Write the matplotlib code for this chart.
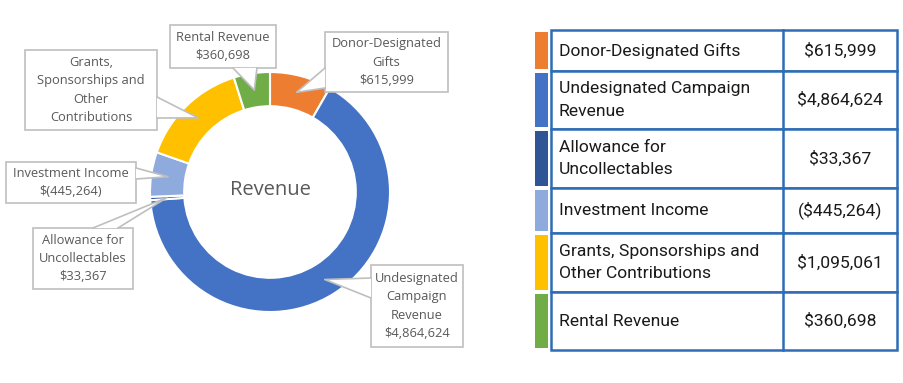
import numpy as np
import matplotlib.pyplot as plt
from matplotlib.patches import Rectangle, Polygon

categories = ['Donor-Designated Gifts', 'Undesignated Campaign Revenue',
              'Allowance for Uncollectables', 'Investment Income',
              'Grants, Sponsorships and Other Contributions', 'Rental Revenue']
values = [615999, 4864624, 33367, -445264, 1095061, 360698]
colors = ['#ED7D31', '#4472C4', '#2F5597', '#8FAADC', '#FFC000', '#70AD47']

callout_labels = ['Donor-Designated\nGifts', 'Undesignated\nCampaign\nRevenue',
                  'Allowance for\nUncollectables', 'Investment Income',
                  'Grants,\nSponsorships and\nOther\nContributions', 'Rental Revenue']
show_value = [True, True, True, True, False, True]
table_labels = ['Donor-Designated Gifts', 'Undesignated Campaign\nRevenue',
                'Allowance for\nUncollectables', 'Investment Income',
                'Grants, Sponsorships and\nOther Contributions', 'Rental Revenue']


def callout_money(v):
    return '$({:,})'.format(-v) if v < 0 else '${:,}'.format(v)


def table_money(v):
    return '(${:,})'.format(-v) if v < 0 else '${:,}'.format(v)


W, H = 904, 383
fig = plt.figure(figsize=(W / 100, H / 100), dpi=100)
ax = fig.add_axes([0, 0, 1, 1])


def py(y):
    # pixel row (from top) -> axis y
    return H - y


# donut
cx, cy, R = 270, py(192), 120
ring = 0.285
wedges, _ = ax.pie(np.abs(values), colors=colors, startangle=90, counterclock=False,
                   radius=R, center=(cx, cy), frame=True,
                   wedgeprops=dict(width=R * ring, edgecolor='white', linewidth=1.5))
ax.set_xlim(0, W)
ax.set_ylim(0, H)
ax.set_aspect('equal')
ax.axis('off')
ax.text(cx, cy + 2, 'Revenue', ha='center', va='center', fontsize=14.5,
        color='#595959', family='Open Sans')

# callout boxes: (x0, y0, x1, y1) in pixels, pointer base (two points)
boxes = [
    ((325, 32, 448, 92), ((325, 68), (325, 88))),
    ((371, 265, 463, 347), ((371, 278), (371, 298))),
    ((33, 228, 133, 289), ((93, 228), (118, 228))),
    ((6, 162, 136, 203), ((136, 168), (136, 179))),
    ((25, 50, 157, 130), ((157, 97), (157, 118))),
    ((170, 25, 276, 68), ((233, 68), (257, 68))),
]
edge = '#BFBFBF'
for w, (box, base), lab, v, sv in zip(wedges, boxes, callout_labels, values, show_value):
    mid = np.deg2rad((w.theta1 + w.theta2) / 2)
    rt = R * 0.86
    tip = (cx + rt * np.cos(mid), cy + rt * np.sin(mid))
    x0, y0, x1, y1 = box
    ax.add_patch(Rectangle((x0, py(y1)), x1 - x0, y1 - y0, facecolor='white',
                           edgecolor=edge, linewidth=1.2, zorder=5))
    b1 = (base[0][0], py(base[0][1]))
    b2 = (base[1][0], py(base[1][1]))
    ax.add_patch(Polygon([b1, tip, b2], closed=True, facecolor='white',
                         edgecolor='none', zorder=6))
    ax.plot([b1[0], tip[0], b2[0]], [b1[1], tip[1], b2[1]], color=edge,
            linewidth=1.2, zorder=7)
    txt = lab + ('\n' + callout_money(v) if sv else '')
    ax.text((x0 + x1) / 2, py((y0 + y1) / 2), txt, ha='center', va='center',
            fontsize=9.3, color='#595959', family='Open Sans', linespacing=1.55,
            zorder=8)

# table on the right
row_edges = [30, 71, 129, 188, 233, 292, 350]
tx0, tx1, tsplit = 551, 897, 783
tcol = '#2E6DB5'
for i in range(len(categories)):
    top, bot = row_edges[i], row_edges[i + 1]
    ax.add_patch(Rectangle((tx0, py(bot)), tx1 - tx0, bot - top, facecolor='white',
                           edgecolor=tcol, linewidth=1.8))
    ax.plot([tsplit, tsplit], [py(top), py(bot)], color=tcol, linewidth=1.8)
    ax.add_patch(Rectangle((535, py(bot - 2)), 13, bot - top - 4,
                           facecolor=colors[i], edgecolor='none'))
    ym = py((top + bot) / 2)
    ax.text(559, ym, table_labels[i], ha='left', va='center', fontsize=12.6,
            color='#1a1a1a', family='Roboto', linespacing=1.6)
    ax.text((tsplit + tx1) / 2, ym, table_money(values[i]), ha='center', va='center',
            fontsize=12.6, color='#1a1a1a', family='Roboto')

fig.savefig('out.png', dpi=100, facecolor='white')
